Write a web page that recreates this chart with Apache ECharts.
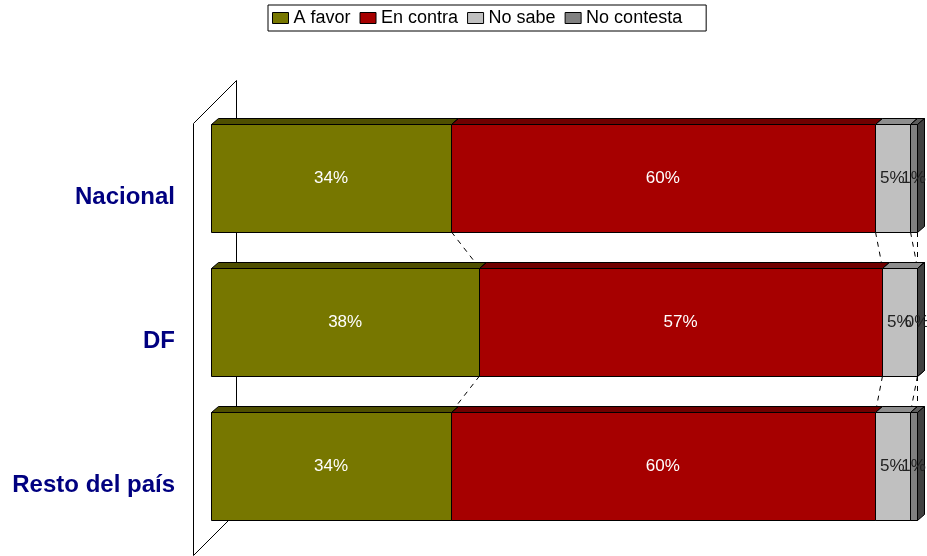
<!DOCTYPE html>
<html><head><meta charset="utf-8">
<script src="https://cdn.jsdelivr.net/npm/echarts@6/dist/echarts.min.js"></script>
<style>html,body{margin:0;padding:0;background:#fff}#c{width:927px;height:556px}</style>
</head><body><div id="c"></div>
<script>
const categories = ['Nacional', 'DF', 'Resto del país'];
const seriesNames = ['A favor', 'En contra', 'No sabe', 'No contesta'];
const aFavor = [34, 38, 34];
const enContra = [60, 57, 60];
const noSabe = [5, 5, 5];
const noContesta = [1, 0, 1];

const values = [aFavor, enContra, noSabe, noContesta];
const frontColors = ['#777700', '#a60000', '#c0c0c0', '#808080'];
const topColors = ['#4f4f00', '#700000', '#8e8e8e', '#5c5c5c'];
const sideColors = ['#3a3a00', '#500000', '#8a8a8a', '#404040'];
const labelColors = ['#ffffff', '#ffffff', '#222222', '#222222'];

const DX = 7, DY = -6, BAR = 0.75;
const FONT = "'Liberation Sans', Arial, sans-serif";
const r = v => Math.round(v) + 0.5;

// cumulative [start, end] per category per series
const cum = categories.map((c, i) => { let s = 0; return values.map(v => { const a = s; s += v[i]; return [a, s]; }); });

function segRender(k) {
  return function (params, api) {
    const s = api.value(0), e = api.value(1), cat = api.value(2), v = api.value(3);
    const p0 = api.coord([s, cat]); const p1 = api.coord([e, cat]);
    const h = api.size([0, 1])[1] * BAR;
    const top = r(p0[1] - h / 2), bot = r(p0[1] + h / 2);
    const x0 = r(p0[0]), x1 = r(p1[0]);
    const ls = { stroke: '#000', lineWidth: 1 };
    return { type: 'group', children: [
      { type: 'polygon', shape: { points: [[x0, top], [x1, top], [x1 + DX, top + DY], [x0 + DX, top + DY]] }, style: Object.assign({ fill: topColors[k] }, ls) },
      { type: 'polygon', shape: { points: [[x1, top], [x1 + DX, top + DY], [x1 + DX, bot + DY], [x1, bot]] }, style: Object.assign({ fill: sideColors[k] }, ls) },
      { type: 'rect', shape: { x: x0, y: top, width: x1 - x0, height: bot - top }, style: Object.assign({ fill: frontColors[k] }, ls) },
      { type: 'text', z2: 100, style: { text: v + '%', x: (p0[0] + p1[0]) / 2, y: p0[1], align: 'center', verticalAlign: 'middle', fill: labelColors[k], font: '17px ' + FONT } }
    ] };
  };
}

const segSeries = seriesNames.map((name, k) => ({
  type: 'custom', name: name, clip: false,
  itemStyle: { color: frontColors[k], borderColor: '#000', borderWidth: 1 },
  encode: { x: [0, 1], y: 2 },
  data: categories.map((c, i) => [cum[i][k][0], cum[i][k][1], i, values[k][i]]),
  renderItem: segRender(k)
}));

const wallSeries = {
  type: 'custom', clip: false, silent: true,
  encode: { x: 0, y: 1 },
  data: [[0, 0]],
  renderItem: function (params, api) {
    const c = api.coord([0, 0]); const band = api.size([0, 1])[1];
    const bx = r(c[0] + 25), by = r(c[1] - band / 2 - 26);
    const bb = by + band * categories.length;
    const fx = bx - 43, fy = by + 43, fb = bb + 43;
    const children = [{ type: 'polygon', shape: { points: [[bx, bb], [bx, by], [fx, fy], [fx, fb]] }, style: { fill: 'none', stroke: '#000', lineWidth: 1 } }];
    categories.forEach((name, i) => {
      const p = api.coord([0, i]);
      children.push({ type: 'text', style: { text: name, x: p[0] - 36, y: p[1] + 19, align: 'right', verticalAlign: 'middle', fill: '#000080', font: 'bold 24px ' + FONT } });
    });
    return { type: 'group', children: children };
  }
};

const lineData = [];
for (let i = 0; i < categories.length - 1; i++) {
  for (let k = 0; k < seriesNames.length; k++) lineData.push([cum[i][k][1], cum[i + 1][k][1], i]);
}
const lineSeries = {
  type: 'custom', clip: false, silent: true,
  encode: { x: [0, 1], y: 2 },
  data: lineData,
  renderItem: function (params, api) {
    const cat = api.value(2);
    const p0 = api.coord([api.value(0), cat]); const p1 = api.coord([api.value(1), cat + 1]);
    const h = api.size([0, 1])[1] * BAR;
    return { type: 'line', shape: { x1: r(p0[0]), y1: p0[1] + h / 2, x2: r(p1[0]), y2: p1[1] - h / 2 }, style: { stroke: '#000', lineWidth: 1, lineDash: [5, 5] } };
  }
};

const chart = echarts.init(document.getElementById('c'));
chart.setOption({
  animation: false,
  backgroundColor: '#fff',
  legend: {
    left: 268, top: 5,
    padding: [4, 24, 4, 4],
    borderColor: '#000', borderWidth: 1,
    itemWidth: 16, itemHeight: 11, itemGap: 9,
    icon: 'rect',
    textStyle: { fontSize: 18, color: '#000', fontFamily: FONT },
    data: seriesNames.map((n, k) => ({ name: n, itemStyle: { color: frontColors[k], borderColor: '#000', borderWidth: 1 } }))
  },
  grid: { left: 211, right: 10, top: 106, bottom: 18, containLabel: false },
  xAxis: { type: 'value', min: 0, max: 100, show: false },
  yAxis: {
    type: 'category', inverse: true, data: categories,
    axisLine: { show: false }, axisTick: { show: false }, splitLine: { show: false },
    axisLabel: { show: false }
  },
  series: [wallSeries, lineSeries].concat(segSeries)
});
</script></body></html>
